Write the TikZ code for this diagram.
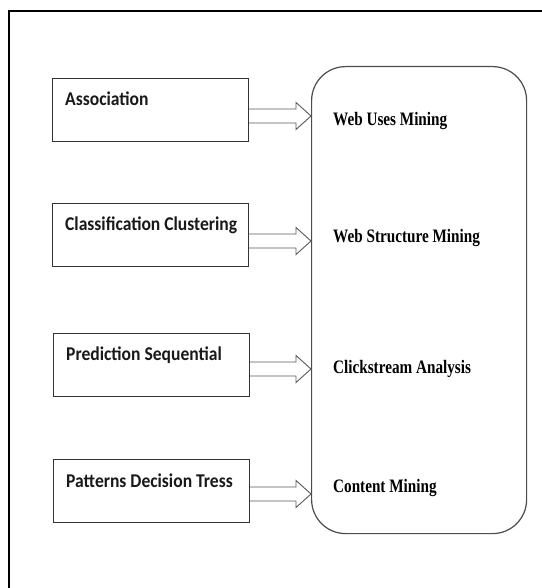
\documentclass[tikz,border=0pt]{standalone}
\usepackage{fontspec}
\newfontfamily\boxfont[FakeStretch=0.9,BoldFont={Carlito Bold},BoldFeatures={FakeStretch=0.9}]{Carlito}
\newfontfamily\panelfont[FakeStretch=0.8,BoldFeatures={FakeStretch=0.8}]{Liberation Serif}
\begin{document}
\begin{tikzpicture}[x=1pt,y=-1pt,
  frame/.style={draw=black,line width=1.6pt},
  srcbox/.style={draw=black!80,line width=1pt,minimum width=196pt,minimum height=63pt,anchor=north west,inner sep=0pt},
  srctext/.style={font=\boxfont\bfseries\fontsize{19.5}{22}\selectfont,anchor=base west,inner sep=0pt,text=black!90},
  panel/.style={draw=black!70,line width=1.2pt,rounded corners=34pt,minimum width=215pt,minimum height=467pt,anchor=north west,inner sep=0pt},
  paneltext/.style={font=\panelfont\bfseries\fontsize{19}{21}\selectfont,anchor=base west,inner sep=0pt,text=black},
  fat/.style={draw=black!65,line width=0.9pt,fill=white,line join=miter}]
\useasboundingbox (0,0) rectangle (541,588);
\fill[white] (0,0) rectangle (541,588);
% outer frame (only its top and left sides fall inside the page)
\draw[frame] (545,10.8) -- (8.8,10.8) -- (8.8,592);

% right-hand panel
\node[panel] (panel) at (311,66) {};

% left-hand boxes
\node[srcbox] (b1) at (52,78) {};
\node[srcbox] (b2) at (52,203) {};
\node[srcbox] (b3) at (53,333) {};
\node[srcbox] (b4) at (53,459) {};

\node[srctext] (s1) at ([xshift=13pt,yshift=-28pt]b1.north west) {Association};
\node[srctext] (s2) at ([xshift=13pt,yshift=-27pt]b2.north west) {Classification Clustering};
\node[srctext] (s3) at ([xshift=13pt,yshift=-27pt]b3.north west) {Prediction Sequential};
\node[srctext] (s4) at ([xshift=13pt,yshift=-28pt]b4.north west) {Patterns Decision Tress};

% labels inside the panel
\node[paneltext] (p1) at (333,126) {Web Uses Mining};
\node[paneltext] (p2) at (333,242) {Web Structure Mining};
\node[paneltext] (p3) at (333,373) {Clickstream Analysis};
\node[paneltext] (p4) at (333,492) {Content Mining};

% hollow block arrows from each box to the panel
\foreach \b/\dy in {b1/6,b2/6,b3/4,b4/3}{
  \coordinate (c\b) at ([yshift=-\dy pt]\b.east);
  \coordinate (t\b) at (c\b -| panel.west);
  \draw[fat] ([yshift=7pt]c\b) -- ([xshift=-15pt,yshift=7pt]t\b)
    -- ([xshift=-15pt,yshift=13.5pt]t\b) -- (t\b)
    -- ([xshift=-15pt,yshift=-13.5pt]t\b) -- ([xshift=-15pt,yshift=-7pt]t\b)
    -- ([yshift=-7pt]c\b);
}
\end{tikzpicture}
\end{document}
